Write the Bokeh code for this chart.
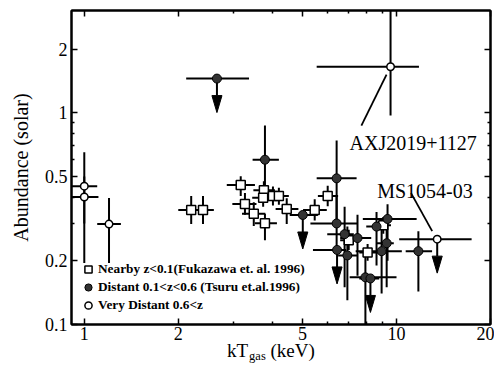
import math
from bokeh.plotting import figure
from bokeh.layouts import column
from bokeh.models import (FixedTicker, LogAxis, Range1d, Label, Legend, LegendItem,
                          CustomJSTickFormatter, Div)
from bokeh.embed import file_html
from bokeh.resources import INLINE

# ---------------- data ----------------
# Nearby z<0.1 (Fukazawa et al. 1996) - open squares
near_kT    = [2.20, 2.40, 3.17, 3.27, 3.49, 3.79, 3.76, 3.74, 4.02, 4.20, 4.45, 5.47, 6.02, 7.03, 8.08, 9.07]
near_kT_lo = [2.00, 2.24, 2.86, 2.98, 3.20, 3.52, 3.48, 3.45, 3.72, 3.90, 4.10, 5.02, 5.60, 6.60, 7.60, 8.60]
near_kT_hi = [2.28, 2.60, 3.52, 3.56, 3.80, 4.14, 4.08, 4.05, 4.35, 4.52, 4.85, 5.98, 6.50, 7.50, 8.70, 9.60]
near_ab    = [0.347, 0.347, 0.456, 0.371, 0.333, 0.301, 0.431, 0.397, 0.404, 0.404, 0.351, 0.347, 0.404, 0.250, 0.219, 0.294]
near_ab_lo = [0.298, 0.298, 0.404, 0.330, 0.292, 0.250, 0.392, 0.360, 0.365, 0.368, 0.298, 0.310, 0.362, 0.225, 0.200, 0.268]
near_ab_hi = [0.404, 0.404, 0.502, 0.418, 0.378, 0.333, 0.475, 0.440, 0.448, 0.442, 0.395, 0.390, 0.452, 0.280, 0.240, 0.322]

# Distant 0.1<z<0.6 (Tsuru et al. 1996) - filled circles
dist_kT    = [2.66, 3.79, 5.01, 6.43, 6.43, 6.45, 6.82, 6.96, 7.50, 7.95, 8.25, 8.96, 9.36, 8.63, 9.30, 11.75]
dist_kT_lo = [2.12, 3.46, 4.55, 5.55, 5.30, 5.40, 6.00, 6.50, 6.60, 7.08, 7.60, 7.40, 7.80, 8.00, 8.60, 10.70]
dist_kT_hi = [3.37, 4.20, 5.60, 7.45, 7.50, 6.90, 7.30, 7.50, 8.30, 10.00, 8.80, 10.40, 11.60, 9.30, 9.80, 13.00]
dist_ab    = [1.45, 0.600, 0.329, 0.490, 0.300, 0.225, 0.267, 0.212, 0.256, 0.167, 0.165, 0.222, 0.315, 0.290, 0.242, 0.222]
dist_ab_lo = [None, 0.42, None, 0.30, 0.22, None, 0.15, 0.13, 0.17, 0.09, None, 0.14, 0.20, 0.19, 0.15, 0.143]
dist_ab_hi = [None, 0.87, None, 0.74, 0.40, None, 0.36, 0.29, 0.33, 0.21, None, 0.31, 0.37, 0.34, 0.32, 0.276]
dist_ul    = [True, False, True, False, False, True, False, False, False, False, True, False, False, False, False, False]

# Very distant 0.6<z - open circles
vd_kT    = [1.00, 1.00, 1.20, 9.57, 13.5]
vd_kT_lo = [0.90, 0.90, 1.10, 5.55, 10.2]
vd_kT_hi = [1.10, 1.11, 1.31, 11.8, 17.4]
vd_ab    = [0.45, 0.40, 0.298, 1.65, 0.253]
vd_ab_lo = [0.30, 0.195, 0.195, 0.97, None]
vd_ab_hi = [0.65, 0.50, 0.396, 3.5, None]
vd_ul    = [False, False, False, False, True]
vd_name  = ["", "", "", "AXJ2019+1127", "MS1054-03"]

x_ticks = [1, 2, 5, 10, 20]
x_minor = [3, 4, 6, 7, 8, 9]
y_ticks = [0.1, 0.2, 0.5, 1, 2]
y_minor = [0.3, 0.4, 0.6, 0.7, 0.8, 0.9]

legend_labels = ["Nearby z<0.1(Fukazawa et. al. 1996)",
                 "Distant 0.1<z<0.6 (Tsuru et.al.1996)",
                 "Very Distant 0.6<z"]
y_title = "Abundance (solar)"

# ---------------- layout ----------------
W, H = 494, 352          # figure; a 13px Div with the x title sits below it
DIV_H = 13
BL, BR, BT, BB = 71, 4, 10, 28
RIGHT_PANEL = 6.5        # space actually taken by the (label-less) right axis
X_RANGE = (0.91, 20.0)
Y_RANGE = (0.1, 3.04)
FONT = "Liberation Serif"

p = figure(width=W, height=H, x_axis_type="log", y_axis_type="log",
           x_range=Range1d(*X_RANGE), y_range=Range1d(*Y_RANGE),
           output_backend="svg", toolbar_location=None,
           min_border_left=BL, min_border_right=BR,
           min_border_top=BT, min_border_bottom=BB)
p.grid.visible = False
p.outline_line_color = "black"
p.outline_line_width = 2
p.background_fill_color = "white"
p.border_fill_color = "white"

bottom = p.below[0]
left = p.left[0]
bottom.ticker = FixedTicker(ticks=x_ticks, minor_ticks=x_minor)
left.ticker = FixedTicker(ticks=y_ticks, minor_ticks=y_minor)
bottom.major_label_overrides = {t: str(t) for t in x_ticks}
left.major_label_overrides = {t: ("%g" % t) for t in y_ticks}

top = LogAxis(ticker=FixedTicker(ticks=x_ticks, minor_ticks=x_minor),
              formatter=CustomJSTickFormatter(code="return ''"))
right = LogAxis(ticker=FixedTicker(ticks=y_ticks, minor_ticks=y_minor),
                formatter=CustomJSTickFormatter(code="return ''"))
p.add_layout(top, "above")
p.add_layout(right, "right")

for ax in [bottom, left, top, right]:
    ax.axis_line_color = "black"
    ax.axis_line_width = 2
    ax.major_tick_in = 6
    ax.major_tick_out = 0
    ax.minor_tick_in = 3
    ax.minor_tick_out = 0
    ax.major_tick_line_width = 1.5
    ax.minor_tick_line_width = 1.5
    ax.major_tick_line_color = "black"
    ax.minor_tick_line_color = "black"
    ax.major_label_text_font = FONT
    ax.major_label_text_font_size = "18px"
    ax.major_label_text_color = "black"
for ax in [top, right]:
    ax.major_label_standoff = 0
    ax.axis_label_standoff = 0
    ax.major_label_text_font_size = "0px"
bottom.major_label_standoff = 2
left.major_label_standoff = 4

left.axis_label = y_title
left.axis_label_text_font = FONT
left.axis_label_text_font_size = "20px"
left.axis_label_text_font_style = "normal"
left.axis_label_text_color = "black"
left.axis_label_standoff = 10

# geometry helpers for annotation shapes given in screen pixels
FRAME_W = W - BL - RIGHT_PANEL
FRAME_H = H - BT - BB
PX_X = FRAME_W / math.log10(X_RANGE[1] / X_RANGE[0])
PX_Y = FRAME_H / math.log10(Y_RANGE[1] / Y_RANGE[0])


def shift(x, y, dx, dy):
    """move a data point by (dx, dy) screen pixels (dy positive = down)"""
    return x * 10 ** (dx / PX_X), y * 10 ** (-dy / PX_Y)


LW = 2
ARROW_LEN = 34
HEAD_LEN = 17
HEAD_W = 10


def draw_errors(kt, kt_lo, kt_hi, ab, ab_lo, ab_hi, ul):
    p.segment(kt_lo, ab, kt_hi, ab, line_color="black", line_width=LW)
    vx, v0, v1 = [], [], []
    for i in range(len(kt)):
        if not ul[i]:
            vx.append(kt[i]); v0.append(ab_lo[i]); v1.append(ab_hi[i])
    if vx:
        p.segment(vx, v0, vx, v1, line_color="black", line_width=LW)
    ax, ay0, ay1, hx, hy = [], [], [], [], []
    for i in range(len(kt)):
        if ul[i]:
            _, tip = shift(kt[i], ab[i], 0, ARROW_LEN)
            _, base = shift(kt[i], ab[i], 0, ARROW_LEN - HEAD_LEN)
            xl, _ = shift(kt[i], ab[i], -HEAD_W / 2, 0)
            xr, _ = shift(kt[i], ab[i], HEAD_W / 2, 0)
            ax.append(kt[i]); ay0.append(ab[i]); ay1.append(base)
            hx.append([xl, xr, kt[i]]); hy.append([base, base, tip])
    if ax:
        p.segment(ax, ay0, ax, ay1, line_color="black", line_width=LW)
        p.patches(hx, hy, fill_color="black", line_color="black", line_width=1)


draw_errors(near_kT, near_kT_lo, near_kT_hi, near_ab, near_ab_lo, near_ab_hi,
            [False] * len(near_kT))
draw_errors(dist_kT, dist_kT_lo, dist_kT_hi, dist_ab, dist_ab_lo, dist_ab_hi, dist_ul)
draw_errors(vd_kT, vd_kT_lo, vd_kT_hi, vd_ab, vd_ab_lo, vd_ab_hi, vd_ul)

r_sq = p.scatter(near_kT, near_ab, marker="square", size=9, fill_color="white",
                 line_color="black", line_width=1.5)
r_fc = p.scatter(dist_kT, dist_ab, marker="circle", size=9, fill_color="#333333",
                 line_color="black", line_width=1)
r_oc = p.scatter(vd_kT, vd_ab, marker="circle", size=7.5, fill_color="white",
                 line_color="black", line_width=1.5)

# name labels with leader lines
name_style = {
    "AXJ2019+1127": dict(lead=((-4, 8), (-29, 59)), text_off=(-41, -76)),
    "MS1054-03": dict(lead=((-26, -46), (-5, -8)), text_off=(-60, 48)),
}
lx0, ly0, lx1, ly1 = [], [], [], []
for i, name in enumerate(vd_name):
    if not name:
        continue
    st = name_style[name]
    (a, b), (c, d) = st["lead"]
    x0, y0 = shift(vd_kT[i], vd_ab[i], a, b)
    x1, y1 = shift(vd_kT[i], vd_ab[i], c, d)
    lx0.append(x0); ly0.append(y0); lx1.append(x1); ly1.append(y1)
    p.add_layout(Label(x=vd_kT[i], y=vd_ab[i], x_offset=st["text_off"][0],
                       y_offset=st["text_off"][1], text=name, text_font=FONT,
                       text_font_size="20px", text_color="black",
                       text_baseline="alphabetic", text_align="left"))
p.segment(lx0, ly0, lx1, ly1, line_color="black", line_width=1.8)

legend = Legend(items=[LegendItem(label=legend_labels[0], renderers=[r_sq]),
                       LegendItem(label=legend_labels[1], renderers=[r_fc]),
                       LegendItem(label=legend_labels[2], renderers=[r_oc])],
                location=(7, 10), orientation="vertical",
                glyph_width=20, glyph_height=18, label_height=18,
                label_standoff=-2, spacing=0, padding=0, margin=0,
                label_text_font=FONT, label_text_font_size="13.3px",
                label_text_font_style="bold", label_text_color="black",
                background_fill_alpha=0, border_line_alpha=0)
p.add_layout(legend)

# x axis title with a subscript (HTML text under the figure)
x_title = ("<div style=\"position:relative; top:-16px; left:222px; white-space:nowrap; "
           "font-family:'Liberation Serif'; font-size:19px; line-height:19px; color:black;\">"
           "kT<span style=\"font-size:12.5px; position:relative; top:3px; margin-left:1px;\">gas</span>"
           " (keV)</div>")
div = Div(text=x_title, width=W, height=DIV_H)

layout = column(p, div, spacing=0)
open("out.html", "w").write(file_html(layout, INLINE))
